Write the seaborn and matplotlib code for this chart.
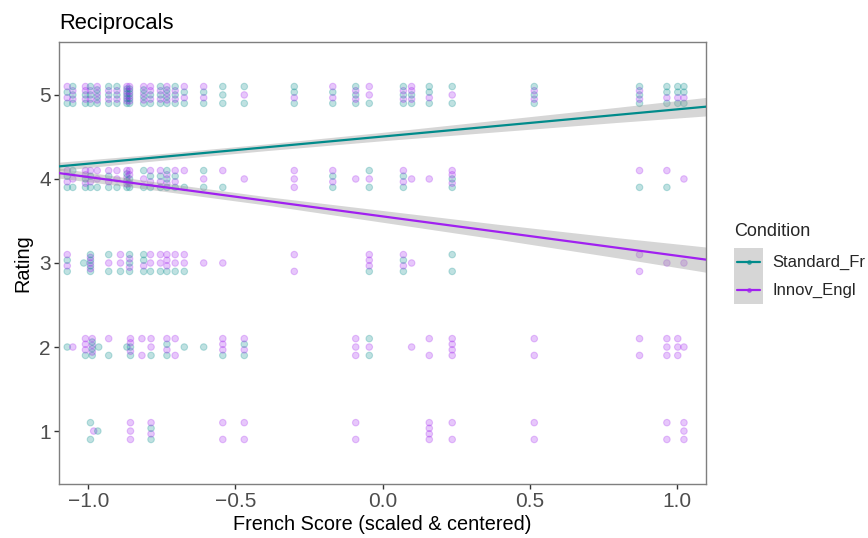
import numpy as np
import pandas as pd
import matplotlib
matplotlib.use("Agg")
import matplotlib.pyplot as plt
import seaborn as sns
from matplotlib.patches import Rectangle
from matplotlib.lines import Line2D

# ---- data -------------------------------------------------------------
conditions = ["Standard_Fr", "Innov_Engl"]
colors = {"Standard_Fr": "#008B8B", "Innov_Engl": "#A020F0"}

# French score of each participant column, and how many responses of each
# condition landed on a given rating
r5_x   = [-1.072, -1.053, -1.010, -0.993, -0.970, -0.931, -0.903, -0.869, -0.860,
          -0.812, -0.789, -0.755, -0.733, -0.705, -0.674, -0.608, -0.543, -0.470,
          -0.300, -0.169, -0.091, -0.045, 0.071, 0.099, 0.159, 0.237, 0.516,
          0.874, 0.967, 1.004, 1.025]
r5_std = [2, 3, 2, 3, 3, 3, 3, 4, 4, 3, 2, 3, 3, 3, 2, 2, 3, 2, 3, 2, 3, 1, 3, 2, 3, 2, 3, 3, 3, 3, 3]
r5_inn = [2, 2, 3, 2, 3, 2, 2, 4, 4, 3, 3, 2, 3, 2, 2, 2, 0, 1, 1, 2, 2, 2, 2, 3, 1, 1, 2, 2, 1, 1, 1]

r4_x   = [-1.072, -1.053, -1.010, -0.993, -0.970, -0.931, -0.903, -0.869, -0.860,
          -0.812, -0.789, -0.755, -0.733, -0.705, -0.674, -0.608, -0.543, -0.470,
          -0.300, -0.169, -0.091, -0.045, 0.071, 0.099, 0.159, 0.237, 0.874,
          0.967, 1.025]
r4_std = [2, 2, 2, 2, 1, 2, 1, 3, 2, 2, 2, 2, 3, 2, 1, 2, 1, 0, 0, 2, 0, 2, 2, 0, 0, 2, 1, 1, 0]
r4_inn = [2, 1, 3, 2, 2, 2, 2, 3, 3, 1, 2, 2, 2, 2, 1, 1, 1, 1, 3, 2, 1, 1, 2, 1, 1, 3, 1, 1, 1]

r3_x   = [-1.072, -1.016, -0.993, -0.931, -0.891, -0.860, -0.812, -0.789, -0.755,
          -0.733, -0.705, -0.674, -0.608, -0.543, -0.300, -0.045, 0.071, 0.099,
          0.237, 0.874, 0.967, 1.025]
r3_std = [2, 1, 4, 2, 1, 3, 3, 1, 1, 1, 1, 1, 0, 0, 0, 1, 2, 0, 2, 0, 0, 0]
r3_inn = [2, 0, 3, 1, 2, 2, 1, 2, 2, 3, 2, 2, 1, 1, 2, 3, 2, 1, 0, 2, 1, 1]

r2_x   = [-1.072, -1.053, -1.010, -0.987, -0.965, -0.931, -0.869, -0.857, -0.818,
          -0.787, -0.733, -0.705, -0.674, -0.608, -0.543, -0.470, -0.091, -0.045,
          0.099, 0.159, 0.237, 0.516, 0.874, 0.967, 1.004, 1.025]
r2_std = [1, 0, 1, 3, 1, 1, 1, 2, 0, 1, 2, 0, 1, 1, 1, 2, 0, 2, 0, 0, 0, 0, 0, 0, 0, 0]
r2_inn = [0, 1, 3, 3, 0, 1, 0, 3, 2, 2, 2, 2, 0, 0, 3, 2, 3, 1, 1, 2, 4, 2, 2, 3, 3, 1]

r1_x   = [-0.993, -0.982, -0.968, -0.857, -0.787, -0.543, -0.470, -0.091, 0.159,
          0.237, 0.516, 0.967, 1.025]
r1_std = [2, 0, 1, 0, 2, 0, 0, 0, 0, 0, 0, 0, 0]
r1_inn = [0, 1, 0, 3, 2, 2, 2, 2, 4, 2, 2, 2, 3]

# fitted linear trends (intercept at score 0, slope) and their 95% CI half-widths
fit_intercept = {"Standard_Fr": 4.505, "Innov_Engl": 3.555}
fit_slope     = {"Standard_Fr": 0.323, "Innov_Engl": -0.468}
ci_x          = [-1.1, -0.8, -0.4, 0.0, 0.4, 0.8, 1.1]
ci_half       = {"Standard_Fr": [0.05, 0.04, 0.04, 0.05, 0.07, 0.09, 0.11],
                 "Innov_Engl":  [0.06, 0.05, 0.05, 0.07, 0.09, 0.12, 0.15]}

x_ticks = [-1.0, -0.5, 0.0, 0.5, 1.0]
y_ticks = [1, 2, 3, 4, 5]

# ---- long table of responses, stacked in small columns around each rating --
def stack_column(rating, xs, n_std, n_inn):
    rows = []
    for x, a, b in zip(xs, n_std, n_inn):
        order = []
        ia, ib = a, b
        while ia or ib:
            if ia:
                order.append("Standard_Fr"); ia -= 1
            if ib:
                order.append("Innov_Engl"); ib -= 1
        n = len(order)
        offs = np.linspace(-0.1, 0.1, n) if n > 1 else [0.0]
        for cond, off in zip(order, offs):
            rows.append({"score": x, "rating": rating + off, "condition": cond})
    return rows

records = []
records += stack_column(5, r5_x, r5_std, r5_inn)
records += stack_column(4, r4_x, r4_std, r4_inn)
records += stack_column(3, r3_x, r3_std, r3_inn)
records += stack_column(2, r2_x, r2_std, r2_inn)
records += stack_column(1, r1_x, r1_std, r1_inn)
df = pd.DataFrame(records)

fits = []
for c in conditions:
    for x in ci_x:
        fits.append({"score": x, "rating": fit_intercept[c] + fit_slope[c] * x, "condition": c})
fit_df = pd.DataFrame(fits)

# ---- figure -----------------------------------------------------------------
sns.set_theme(style="white")
plt.rcParams["font.family"] = ["Liberation Sans", "DejaVu Sans"]

fig = plt.figure(figsize=(8.68, 5.38), dpi=100)
ax = fig.add_axes([59 / 868, 54 / 538, (706 - 59) / 868, (484 - 42) / 538])

sns.scatterplot(data=df, x="score", y="rating", hue="condition", palette=colors,
                hue_order=conditions, s=22, alpha=0.25, edgecolor="face",
                linewidth=0.8, legend=False, ax=ax, zorder=1)

for c in conditions:
    sub = fit_df[fit_df.condition == c]
    half = np.array(ci_half[c])
    ax.fill_between(sub.score, sub.rating - half, sub.rating + half,
                    color="#999999", alpha=0.4, linewidth=0, zorder=2)

sns.lineplot(data=fit_df, x="score", y="rating", hue="condition", palette=colors,
             hue_order=conditions, linewidth=1.6, legend=False, ax=ax, zorder=3)

ax.set_xlim(-1.1, 1.1)
ax.set_ylim(0.37, 5.63)
ax.set_xticks(x_ticks)
ax.set_xticklabels([f"{t:.1f}".replace("-", "\u2212") for t in x_ticks])
ax.set_yticks(y_ticks)
ax.set_yticklabels([str(t) for t in y_ticks])
ax.tick_params(axis="both", which="major", direction="out", length=3.5, width=1.0,
               color="#333333", labelsize=15, labelcolor="#4D4D4D", pad=2.5,
               bottom=True, left=True)
for sp in ax.spines.values():
    sp.set_color("#7F7F7F")
    sp.set_linewidth(1.0)
ax.grid(False)

ax.set_xlabel("French Score (scaled & centered)", fontsize=14.3, color="black", labelpad=3)
ax.set_ylabel("Rating", fontsize=14.3, color="black", labelpad=5)
ax.set_title("Reciprocals", loc="left", fontsize=15.8, color="black", pad=9)

# legend drawn in figure coordinates
fig.text(734 / 868, 1 - 231 / 538, "Condition", fontsize=13, ha="left", va="center")
key_y = [262, 290]
for c, yk in zip(conditions, key_y):
    fig.add_artist(Rectangle((734 / 868, 1 - (yk + 14) / 538), 29 / 868, 28 / 538,
                             transform=fig.transFigure, facecolor="#D6D6D6",
                             edgecolor="none"))
    fig.add_artist(Line2D([737 / 868, 760 / 868], [1 - yk / 538] * 2,
                          transform=fig.transFigure, color=colors[c], linewidth=1.6))
    fig.add_artist(Line2D([748.5 / 868], [1 - yk / 538], transform=fig.transFigure,
                          color=colors[c], marker="o", markersize=2.5, alpha=0.6,
                          linestyle="none"))
    fig.text(772 / 868, 1 - yk / 538, c, fontsize=12, ha="left", va="center")

fig.savefig("out.png", dpi=100)
